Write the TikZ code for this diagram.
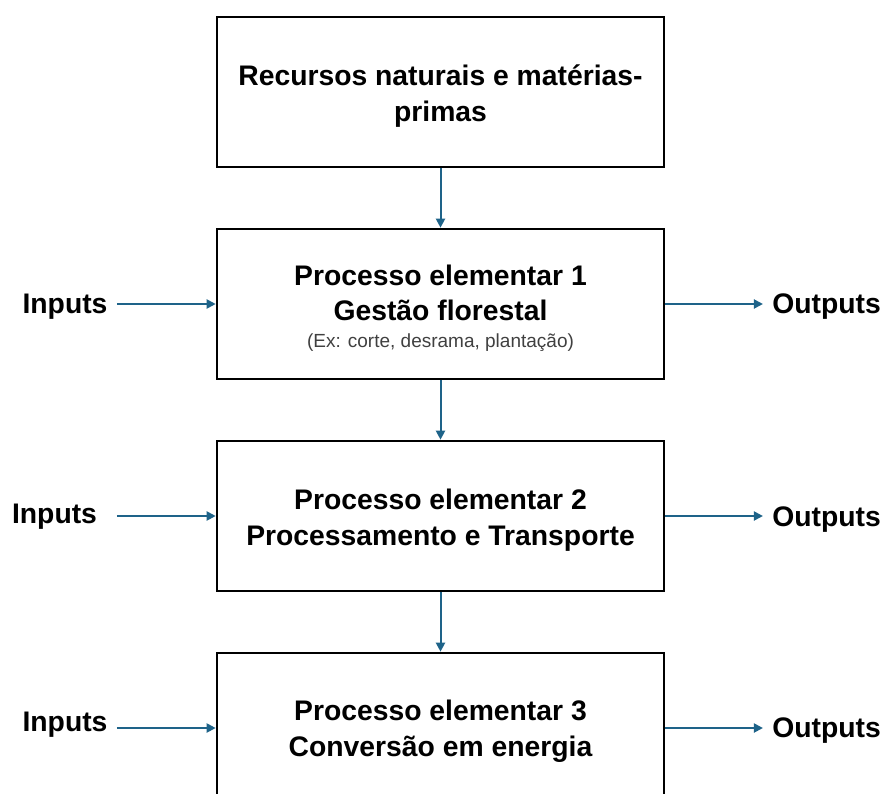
\documentclass[tikz,border=0pt]{standalone}
\usepackage{fontspec}
\setmainfont{Liberation Sans}
\usetikzlibrary{arrows.meta}
\definecolor{arrowblue}{HTML}{1E6389}
\definecolor{smallgrey}{HTML}{404040}
\tikzset{
  procbox/.style={draw=black, line width=2.6pt, minimum width=447pt, minimum height=150pt, inner sep=0pt},
  boxtext/.style={align=center, font=\fontsize{28.3}{35.5}\selectfont\bfseries},
  sidelabel/.style={font=\fontsize{28.3}{35}\selectfont\bfseries, outer sep=6pt},
  arr/.style={draw=arrowblue, line width=2pt, -{Triangle[length=9pt,width=9pt]}},
}
\begin{document}
\begin{tikzpicture}[x=1pt,y=-1pt]
\useasboundingbox (0,0) rectangle (885,794);
\node[procbox] (b1) at (440.5,92) {};
\node[boxtext] (t1) at (440.5,96) {Recursos naturais e matérias-\\primas};
\node[procbox] (b2) at (440.5,304) {};
\node[boxtext] (t2) at (440.5,293) {Processo elementar 1\\Gestão florestal};
\node[font=\fontsize{19}{22}\selectfont, text=smallgrey] (s2) at (440.5,343) {(Ex: corte, desrama, plantação)};
\node[procbox] (b3) at (440.5,516) {};
\node[boxtext] (t3) at (440.5,520) {Processo elementar 2\\Processamento e Transporte};
\node[procbox] (b4) at (440.5,728) {};
\node[boxtext] (t4) at (440.5,731) {Processo elementar 3\\Conversão em energia};

\node[sidelabel] (in1) at (65,307) {Inputs};
\node[sidelabel] (in2) at (54.5,517) {Inputs};
\node[sidelabel] (in3) at (65,725) {Inputs};
\node[sidelabel] (out1) at (826.5,307) {Outputs};
\node[sidelabel] (out2) at (826.5,520) {Outputs};
\node[sidelabel] (out3) at (826.5,731) {Outputs};

\draw[arr] (b1) -- (b2);
\draw[arr] (b2) -- (b3);
\draw[arr] (b3) -- (b4);
\draw[arr] (in1.east |- b2) -- (b2);
\draw[arr] ([xshift=10.5pt]in2.east |- b3) -- (b3);
\draw[arr] (in3.east |- b4) -- (b4);
\draw[arr] (b2) -- (out1.west |- b2);
\draw[arr] (b3) -- (out2.west |- b3);
\draw[arr] (b4) -- (out3.west |- b4);
\end{tikzpicture}
\end{document}
